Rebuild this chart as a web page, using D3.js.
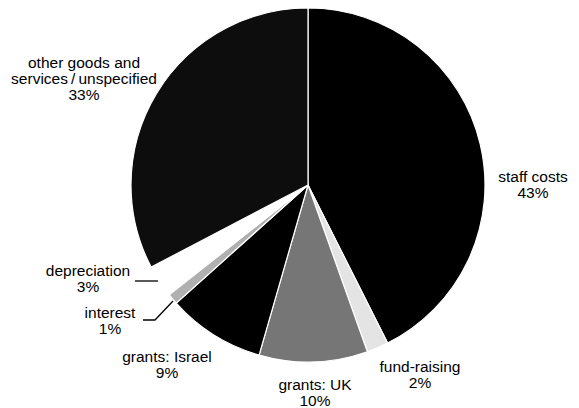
<!DOCTYPE html>
<html><head><meta charset="utf-8">
<script src="https://cdn.jsdelivr.net/npm/d3@7"></script>
<style>body{margin:0;background:#fff}svg{display:block}text{font-family:"Liberation Sans",Arial,sans-serif;font-size:15.5px;fill:#000}</style>
</head><body>
<script>
const categories = ["staff costs","fund-raising","grants: UK","grants: Israel","interest","depreciation","other goods and services / unspecified"];
const values = [43, 2, 10, 9, 1, 3, 33];
const fills = ["#000","#e4e4e4","#767676","#000","#b0b0b0","#fff","#0d0d0d"];
const labelLines = [["staff costs","43%"],["fund-raising","2%"],["grants: UK","10%"],["grants: Israel","9%"],["interest","1%"],["depreciation","3%"],["other goods and","services\u2009/\u2009unspecified","33%"]];
const labelPos = [[533,177],[420,367],[315,385],[167,357],[110,313],[88,271],[84,63]];

const W=579,H=408,cx=308,cy=185,R=177;
const svg=d3.select("body").append("svg").attr("width",W).attr("height",H);
const pie=d3.pie().sort(null).value(d=>d)(values);
const arc=d3.arc().innerRadius(0).outerRadius(R);
const g=svg.append("g").attr("transform",`translate(${cx},${cy})`);
g.selectAll("path").data(pie).join("path").attr("d",arc)
 .attr("fill",(d,i)=>fills[i]).attr("stroke","#fff").attr("stroke-width",1.2);

labelLines.forEach((lines,i)=>{
  const t=svg.append("text").attr("text-anchor","middle").attr("x",labelPos[i][0]).attr("y",labelPos[i][1]+5);
  lines.forEach((s,j)=>t.append("tspan").attr("x",labelPos[i][0]).attr("dy",j?16:0).text(s));
});
// leader lines
svg.append("line").attr("x1",135).attr("y1",281).attr("x2",158).attr("y2",281).attr("stroke","#000").attr("stroke-width",1.3);
svg.append("polyline").attr("points","143,320 155,320 173,301").attr("fill","none").attr("stroke","#000").attr("stroke-width",1.3);
</script>
</body></html>
